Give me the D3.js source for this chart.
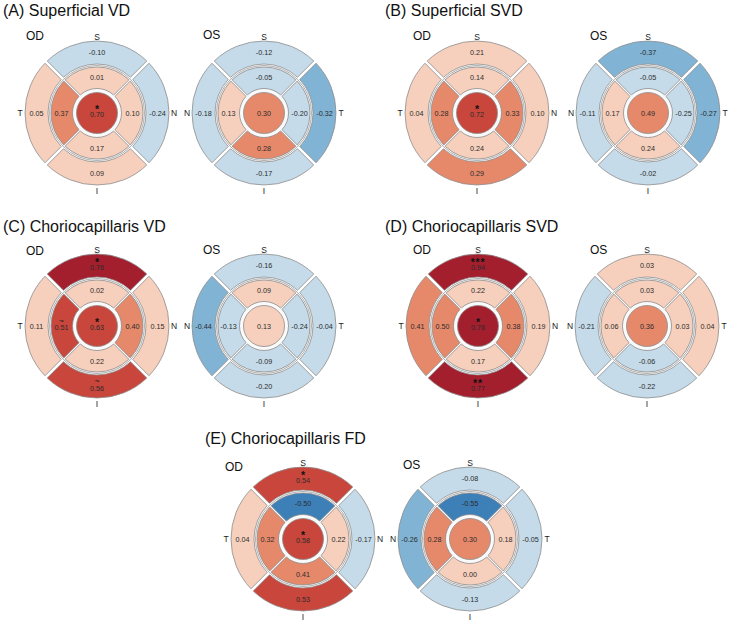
<!DOCTYPE html>
<html>
<head>
<meta charset="utf-8">
<title>ETDRS sector correlations</title>
<script src="https://d3js.org/d3.v7.min.js"></script>
<style>
  body { margin: 0; background: #fff; }
  svg { display: block; font-family: "Liberation Sans", Arial, Helvetica, sans-serif; }
</style>
</head>
<body>
<svg width="730" height="621"></svg>
<script>
// order of the values in every array below
var regions = ["C", "iS", "iN", "iI", "iT", "oS", "oN", "oI", "oT"];

var titles = ["(A) Superficial VD", "(B) Superficial SVD", "(C) Choriocapillaris VD",
              "(D) Choriocapillaris SVD", "(E) Choriocapillaris FD"];
var eyes = ["OD", "OS"];

var supVD_OD  = [0.70, 0.01, 0.10, 0.17, 0.37, -0.10, -0.24, 0.09, 0.05];
var supVD_OS  = [0.30, -0.05, 0.13, 0.28, -0.20, -0.12, -0.18, -0.17, -0.32];
var supSVD_OD = [0.72, 0.14, 0.33, 0.24, 0.28, 0.21, 0.10, 0.29, 0.04];
var supSVD_OS = [0.49, -0.05, 0.17, 0.24, -0.25, -0.37, -0.11, -0.02, -0.27];
var ccVD_OD   = [0.63, 0.02, 0.40, 0.22, 0.51, 0.76, 0.15, 0.56, 0.11];
var ccVD_OS   = [0.13, 0.09, -0.13, -0.09, -0.24, -0.16, -0.44, -0.20, -0.04];
var ccSVD_OD  = [0.76, 0.22, 0.38, 0.17, 0.50, 0.94, 0.19, 0.77, 0.41];
var ccSVD_OS  = [0.36, 0.03, 0.06, -0.06, 0.03, 0.03, -0.21, -0.22, 0.04];
var ccFD_OD   = [0.58, -0.50, 0.22, 0.41, 0.32, 0.54, -0.17, 0.53, 0.04];
var ccFD_OS   = [0.30, -0.55, 0.28, 0.00, 0.18, -0.08, -0.26, -0.13, -0.05];

// significance marks: panel, eye, region, symbol
var marks = [
  [0, "OD", "C", "*"],
  [1, "OD", "C", "*"],
  [2, "OD", "C", "*"], [2, "OD", "oS", "*"], [2, "OD", "iT", "~"], [2, "OD", "oI", "~"],
  [3, "OD", "C", "*"], [3, "OD", "oS", "***"], [3, "OD", "oI", "**"],
  [4, "OD", "C", "*"], [4, "OD", "oS", "*"]
];

var values = [[supVD_OD, supVD_OS], [supSVD_OD, supSVD_OS], [ccVD_OD, ccVD_OS],
              [ccSVD_OD, ccSVD_OS], [ccFD_OD, ccFD_OS]];

// layout (pixels)
var layout = [
  { title: [3, 15.5],  grid: [[97, 113], [264, 113]], lab: [[26, 40], [203, 39]] },
  { title: [385, 15.5], grid: [[477, 113], [648, 113]], lab: [[413, 40], [590, 40]] },
  { title: [3, 232],   grid: [[97, 326], [264, 326]], lab: [[26, 255], [203, 254]] },
  { title: [385, 232], grid: [[478, 326], [647, 326]], lab: [[413, 254], [590, 254]] },
  { title: [205, 444], grid: [[303, 539], [470, 539]], lab: [[225, 471], [403, 469]] }
];

var color = d3.scaleThreshold()
  .domain([-0.495, -0.25, 0, 0.25, 0.505, 0.75])
  .range(["#3d80b8", "#80b3d4", "#c5dbe9", "#f7d0bd", "#e6896b", "#c8463b", "#a31f2e"]);

var fmt = d3.formatLocale({ decimal: ".", thousands: ",", grouping: [3], currency: ["", ""], minus: "-" }).format(".2f");

var innerArc = d3.arc().innerRadius(24.5).outerRadius(46).padRadius(100).padAngle(0.018);
var outerArc = d3.arc().innerRadius(49).outerRadius(72).padRadius(100).padAngle(0.032);
var stroke = "#8d8d8d";

var svg = d3.select("svg");

function dirAngle(eye, d) {
  if (d === "S") return 0;
  if (d === "I") return Math.PI;
  if (d === "N") return eye === "OD" ? Math.PI / 2 : 3 * Math.PI / 2;
  return eye === "OD" ? 3 * Math.PI / 2 : Math.PI / 2;
}

function drawGrid(p, e) {
  var eye = eyes[e], vals = values[p][e];
  var c = layout[p].grid[e];
  var g = svg.append("g").attr("transform", "translate(" + c[0] + "," + c[1] + ")");

  g.append("circle").attr("r", 47.5).attr("fill", "#fafafa")
    .attr("stroke", stroke).attr("stroke-width", 0.7);

  var cells = regions.map(function (r, i) {
    var ring = r === "C" ? "C" : r[0];
    var a = r === "C" ? 0 : dirAngle(eye, r[1]);
    return { region: r, ring: ring, angle: a, v: vals[i] };
  });

  cells.forEach(function (d) {
    if (d.ring === "C") {
      g.append("circle").attr("r", 20.5).attr("fill", color(d.v))
        .attr("stroke", stroke).attr("stroke-width", 0.8);
    } else {
      var arc = d.ring === "i" ? innerArc : outerArc;
      g.append("path")
        .attr("d", arc({ startAngle: d.angle - Math.PI / 4, endAngle: d.angle + Math.PI / 4 }))
        .attr("fill", color(d.v)).attr("stroke", stroke).attr("stroke-width", 0.8);
    }
  });

  cells.forEach(function (d) {
    var rr = d.ring === "C" ? 0 : (d.ring === "i" ? 35.5 : 60.5);
    var x = rr * Math.sin(d.angle), y = -rr * Math.cos(d.angle);
    var m = marks.filter(function (k) { return k[0] === p && k[1] === eye && k[2] === d.region; })[0];
    // a marked value sits a little lower so its symbol fits above it
    var vy = m ? y + 1.5 : y;
    g.append("text").attr("x", x).attr("y", vy).attr("dy", "0.35em")
      .attr("text-anchor", "middle").attr("font-size", "7.2px").attr("fill", "#2b2b2b")
      .text(fmt(d.v));
    if (!m) return;
    if (m[3] === "~") {
      g.append("text").attr("x", x).attr("y", vy - 4).attr("text-anchor", "middle")
        .attr("font-size", "8.5px").attr("fill", "#222").text("~");
    } else {
      g.append("text").attr("x", x).attr("y", vy - 1.5).attr("text-anchor", "middle")
        .attr("font-size", "10.5px").attr("font-weight", "bold").attr("fill", "#111")
        .attr("letter-spacing", m[3].length > 1 ? "0.8px" : "0px")
        .text(m[3]);
    }
  });

  // orientation letters
  ["S", "N", "I", "T"].forEach(function (d) {
    var a = dirAngle(eye, d);
    var x = 77 * Math.sin(a);
    var y = d === "S" ? -73.5 : (d === "I" ? 80.5 : 3);
    g.append("text").attr("x", x).attr("y", y)
      .attr("text-anchor", "middle").attr("font-size", "8.5px").attr("fill", "#222")
      .text(d);
  });

  svg.append("text").attr("x", layout[p].lab[e][0]).attr("y", layout[p].lab[e][1])
    .attr("font-size", "12px").attr("fill", "#111").text(eye);
}

titles.forEach(function (t, p) {
  svg.append("text").attr("x", layout[p].title[0]).attr("y", layout[p].title[1])
    .attr("font-size", "16px").attr("fill", "#111").text(t);
  drawGrid(p, 0);
  drawGrid(p, 1);
});
</script>
</body>
</html>
